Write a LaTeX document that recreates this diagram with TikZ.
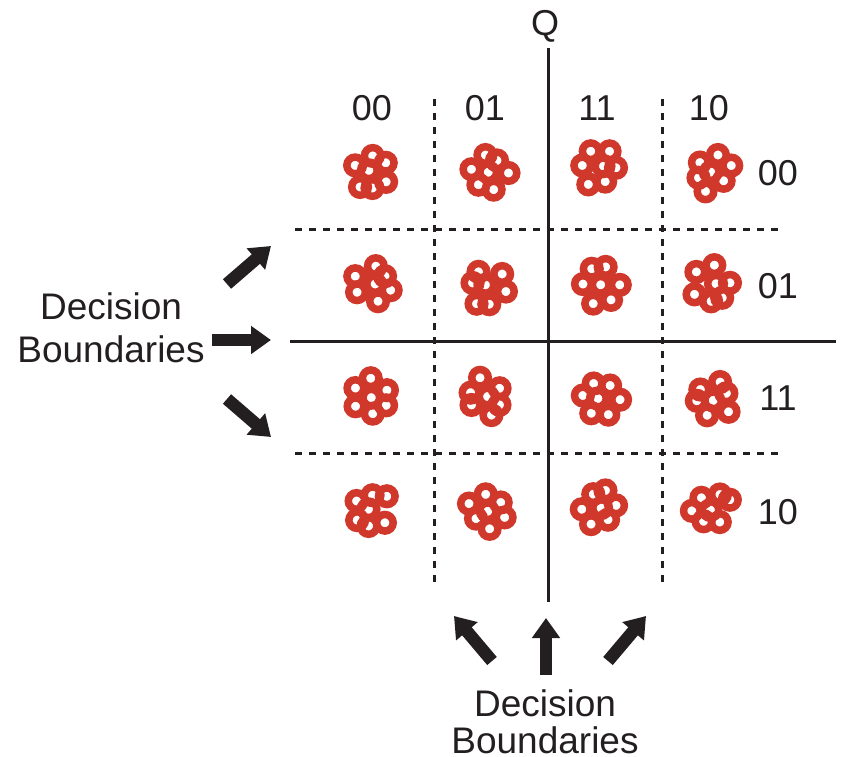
\documentclass[tikz,border=0pt]{standalone}
\usepackage{fontspec}
\setmainfont{Liberation Sans}
\usetikzlibrary{arrows.meta}
\definecolor{dotred}{RGB}{208,56,43}
\definecolor{ink}{RGB}{35,31,32}
\begin{document}
\begin{tikzpicture}[x=1pt,y=-1pt,
  lbl/.style={font=\fontsize{36}{43}\selectfont, text=ink, inner sep=0pt},
  biglbl/.style={font=\fontsize{37}{42}\selectfont, text=ink, inner sep=0pt, anchor=base},
  axisline/.style={line width=3pt, draw=ink},
  bound/.style={line width=3pt, draw=ink, dash pattern=on 7pt off 7pt},
  bigarrow/.style={line width=12.5pt, draw=ink, -{Triangle[length=20pt,width=27pt]}},
  ring/.style={draw=dotred, line width=7.5pt}]
\useasboundingbox (0,0) rectangle (847,756);
% axes
\coordinate (qtop) at (548,48);
\coordinate (qbot) at (548,602);
\coordinate (ileft) at (290,341);
\coordinate (iright) at (836,341);
\draw[axisline] (qtop) -- (qbot);
\draw[axisline] (ileft) -- (iright);
\node[lbl, anchor=base] (qlabel) at (545,35) {Q};
% decision boundaries
\coordinate (v1t) at (434,99);  \coordinate (v1b) at (434,587);
\coordinate (v2t) at (662,99);  \coordinate (v2b) at (662,587);
\coordinate (h1l) at (295,229); \coordinate (h1r) at (783,229);
\coordinate (h2l) at (295,453); \coordinate (h2r) at (783,453);
\draw[bound] (v1t) -- (v1b);
\draw[bound] (v2t) -- (v2b);
\draw[bound] (h1l) -- (h1r);
\draw[bound] (h2l) -- (h2r);
% column labels
\node[lbl, anchor=base] (c1) at (372,120) {00};
\node[lbl, anchor=base] (c2) at (485,120) {01};
\node[lbl, anchor=base] (c3) at (597,120) {11};
\node[lbl, anchor=base] (c4) at (709,120) {10};
% row labels
\node[lbl, anchor=base] (r1) at (778,185) {00};
\node[lbl, anchor=base] (r2) at (778,298) {01};
\node[lbl, anchor=base] (r3) at (778,410) {11};
\node[lbl, anchor=base] (r4) at (778,524) {10};
% clusters
\foreach \cx/\cy [count=\n] in {372/173,488/173,600/168,712/172,
                               373/285,488/287,600/285,712/285,
                               372/397,485/397,600/397,712/400,
                               372/510,488/510,598/508,712/508}{
  \pgfmathsetseed{\n*37+11}
  \begin{scope}[shift={(\cx,\cy)}]
    \pgfmathsetmacro\rot{rnd*60}
    \foreach \k in {0,...,5}{
      \pgfmathsetmacro\ang{\rot+\k*60+rnd*30-15}
      \pgfmathsetmacro\dst{14.5+rnd*6}
      \draw[ring] (\ang:\dst) circle (8.3);
    }
    \pgfmathsetmacro\ox{rnd*8-4}
    \pgfmathsetmacro\oy{rnd*8-4}
    \draw[ring] (\ox,\oy) circle (8.3);
  \end{scope}
}
% left label and arrows
\node[biglbl] (leftlbl1) at (111,319) {Decision};
\node[biglbl] (leftlbl2) at (111,362) {Boundaries};
\coordinate (la1s) at (227,284); \coordinate (la1e) at (271,246);
\coordinate (la2s) at (212,340); \coordinate (la2e) at (271,340);
\coordinate (la3s) at (227,399); \coordinate (la3e) at (271,437);
\draw[bigarrow] (la1s) -- (la1e);
\draw[bigarrow] (la2s) -- (la2e);
\draw[bigarrow] (la3s) -- (la3e);
% bottom label and arrows
\node[biglbl] (botlbl1) at (545,716) {Decision};
\node[biglbl] (botlbl2) at (545,753) {Boundaries};
\coordinate (ba1s) at (492,661); \coordinate (ba1e) at (454,616);
\coordinate (ba2s) at (546,675); \coordinate (ba2e) at (546,618);
\coordinate (ba3s) at (608,661); \coordinate (ba3e) at (646,616);
\draw[bigarrow] (ba1s) -- (ba1e);
\draw[bigarrow] (ba2s) -- (ba2e);
\draw[bigarrow] (ba3s) -- (ba3e);
\end{tikzpicture}
\end{document}
